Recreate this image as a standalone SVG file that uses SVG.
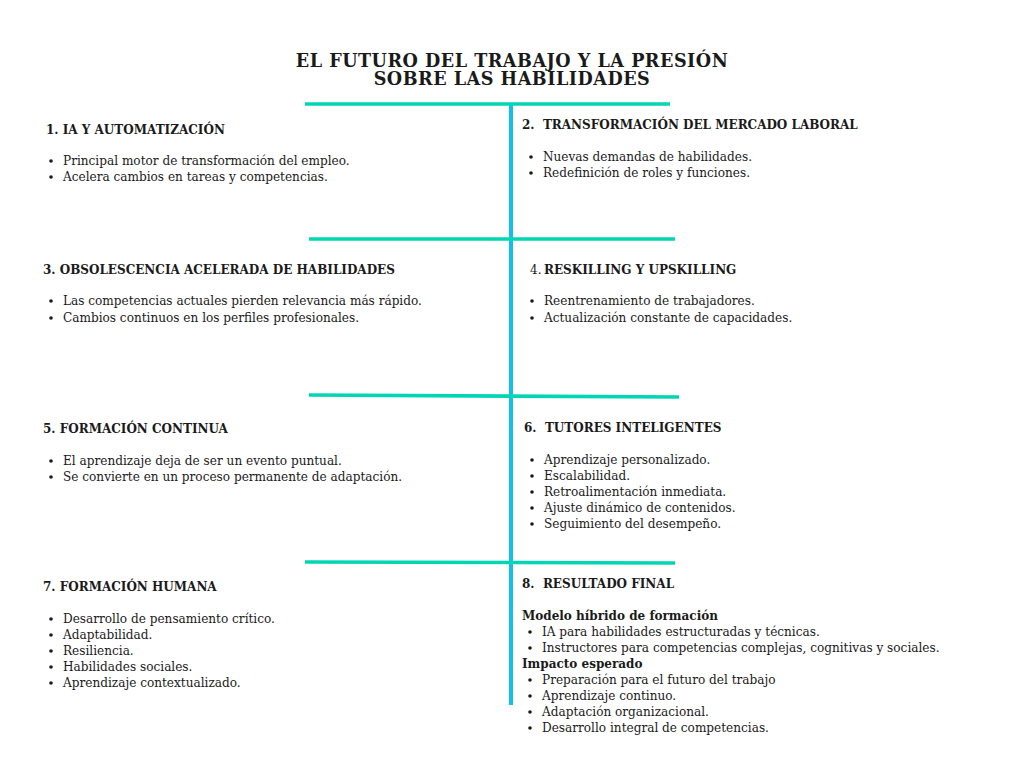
<svg xmlns="http://www.w3.org/2000/svg" width="1024" height="768" viewBox="0 0 1024 768">
<style>
text{font-family:"DejaVu Serif","Liberation Serif",serif;fill:#1a1a1a;white-space:pre}
.t{font-size:17.6px;font-weight:bold;text-anchor:middle;letter-spacing:0.5px}
.h{font-size:12px;font-weight:bold}
.n{font-size:12px;font-weight:normal}
.b{font-size:12.1px}
.hl{stroke:#00D6B4;stroke-width:3.6;fill:none}
.vl{stroke:#0FC0EE;stroke-width:4;fill:none}
.dot{fill:#1a1a1a}
</style>
<rect width="1024" height="768" fill="#ffffff"/>
<g id="title">
<text class="t" x="512" y="67">EL FUTURO DEL TRABAJO Y LA PRESIÓN</text>
<text class="t" x="512" y="85">SOBRE LAS HABILIDADES</text>
</g>
<g id="connectors">
<line class="vl" x1="511" y1="104" x2="511" y2="705"/>
<line class="hl" x1="305" y1="104" x2="670" y2="104"/>
<line class="hl" x1="309" y1="239" x2="675" y2="239"/>
<line class="hl" x1="309" y1="395" x2="679" y2="397"/>
<line class="hl" x1="305" y1="562" x2="675" y2="563"/>
</g>
<g id="node1">
<text class="h" x="46" y="134">1. IA Y AUTOMATIZACIÓN</text>
<circle class="dot" cx="51" cy="161" r="1.8"/><text class="b" x="63" y="165">Principal motor de transformación del empleo.</text>
<circle class="dot" cx="51" cy="177" r="1.8"/><text class="b" x="63" y="181">Acelera cambios en tareas y competencias.</text>
</g>
<g id="node2">
<text class="h" x="522" y="129">2.  TRANSFORMACIÓN DEL MERCADO LABORAL</text>
<circle class="dot" cx="531" cy="157" r="1.8"/><text class="b" x="543" y="161">Nuevas demandas de habilidades.</text>
<circle class="dot" cx="531" cy="173" r="1.8"/><text class="b" x="543" y="177">Redefinición de roles y funciones.</text>
</g>
<g id="node3">
<text class="h" x="43" y="274">3. OBSOLESCENCIA ACELERADA DE HABILIDADES</text>
<circle class="dot" cx="51" cy="301" r="1.8"/><text class="b" x="63" y="305">Las competencias actuales pierden relevancia más rápido.</text>
<circle class="dot" cx="51" cy="318" r="1.8"/><text class="b" x="63" y="322">Cambios continuos en los perfiles profesionales.</text>
</g>
<g id="node4">
<text class="n" x="530" y="274">4.</text><text class="h" x="544" y="274">RESKILLING Y UPSKILLING</text>
<circle class="dot" cx="532" cy="301" r="1.8"/><text class="b" x="544" y="305">Reentrenamiento de trabajadores.</text>
<circle class="dot" cx="532" cy="318" r="1.8"/><text class="b" x="544" y="322">Actualización constante de capacidades.</text>
</g>
<g id="node5">
<text class="h" x="43" y="433">5. FORMACIÓN CONTINUA</text>
<circle class="dot" cx="51" cy="461" r="1.8"/><text class="b" x="63" y="465">El aprendizaje deja de ser un evento puntual.</text>
<circle class="dot" cx="51" cy="477" r="1.8"/><text class="b" x="63" y="481">Se convierte en un proceso permanente de adaptación.</text>
</g>
<g id="node6">
<text class="h" x="524" y="432">6.  TUTORES INTELIGENTES</text>
<circle class="dot" cx="532" cy="460" r="1.8"/><text class="b" x="544" y="464">Aprendizaje personalizado.</text>
<circle class="dot" cx="532" cy="476" r="1.8"/><text class="b" x="544" y="480">Escalabilidad.</text>
<circle class="dot" cx="532" cy="492" r="1.8"/><text class="b" x="544" y="496">Retroalimentación inmediata.</text>
<circle class="dot" cx="532" cy="508" r="1.8"/><text class="b" x="544" y="512">Ajuste dinámico de contenidos.</text>
<circle class="dot" cx="532" cy="524" r="1.8"/><text class="b" x="544" y="528">Seguimiento del desempeño.</text>
</g>
<g id="node7">
<text class="h" x="43" y="591">7. FORMACIÓN HUMANA</text>
<circle class="dot" cx="51" cy="619" r="1.8"/><text class="b" x="63" y="623">Desarrollo de pensamiento crítico.</text>
<circle class="dot" cx="51" cy="635" r="1.8"/><text class="b" x="63" y="639">Adaptabilidad.</text>
<circle class="dot" cx="51" cy="651" r="1.8"/><text class="b" x="63" y="655">Resiliencia.</text>
<circle class="dot" cx="51" cy="667" r="1.8"/><text class="b" x="63" y="671">Habilidades sociales.</text>
<circle class="dot" cx="51" cy="683" r="1.8"/><text class="b" x="63" y="687">Aprendizaje contextualizado.</text>
</g>
<g id="node8">
<text class="h" x="522" y="588">8.  RESULTADO FINAL</text>
<text class="h" x="522" y="620">Modelo híbrido de formación</text>
<circle class="dot" cx="530" cy="632" r="1.8"/><text class="b" x="542" y="636">IA para habilidades estructuradas y técnicas.</text>
<circle class="dot" cx="530" cy="648" r="1.8"/><text class="b" x="542" y="652">Instructores para competencias complejas, cognitivas y sociales.</text>
<text class="h" x="522" y="668">Impacto esperado</text>
<circle class="dot" cx="530" cy="680" r="1.8"/><text class="b" x="542" y="684">Preparación para el futuro del trabajo</text>
<circle class="dot" cx="530" cy="696" r="1.8"/><text class="b" x="542" y="700">Aprendizaje continuo.</text>
<circle class="dot" cx="530" cy="712" r="1.8"/><text class="b" x="542" y="716">Adaptación organizacional.</text>
<circle class="dot" cx="530" cy="728" r="1.8"/><text class="b" x="542" y="732">Desarrollo integral de competencias.</text>
</g>
</svg>
